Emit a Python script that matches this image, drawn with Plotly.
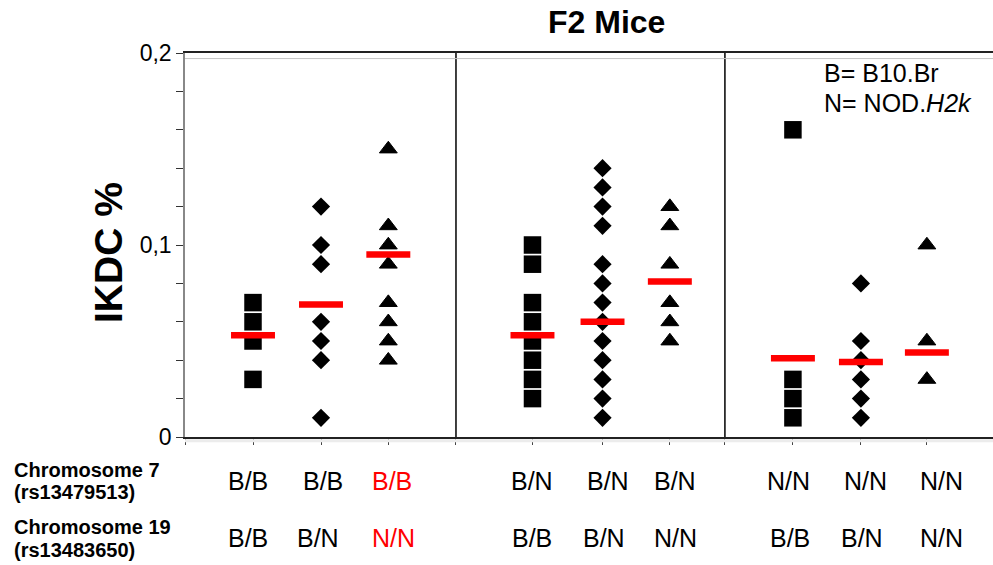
import plotly.graph_objects as go

# Genotype of each F2 group at the two markers
chr7_genotype = ["B/B", "B/B", "B/B", "B/N", "B/N", "B/N", "N/N", "N/N", "N/N"]
chr19_genotype = ["B/B", "B/N", "N/N", "B/B", "B/N", "N/N", "B/B", "B/N", "N/N"]
highlight_group = 2  # B/B at chr7 with N/N at chr19

# IKDC % per mouse, one list per group
ikdc_values = [
    [0.07, 0.06, 0.05, 0.03],
    [0.12, 0.10, 0.09, 0.06, 0.05, 0.04, 0.01],
    [0.15, 0.11, 0.10, 0.09, 0.07, 0.06, 0.05, 0.04],
    [0.10, 0.09, 0.07, 0.06, 0.05, 0.04, 0.03, 0.02],
    [0.14, 0.13, 0.12, 0.11, 0.09, 0.08, 0.07, 0.06, 0.05, 0.04, 0.03, 0.02, 0.01],
    [0.12, 0.11, 0.09, 0.07, 0.06, 0.05],
    [0.16, 0.03, 0.02, 0.01],
    [0.08, 0.05, 0.04, 0.03, 0.02, 0.01],
    [0.10, 0.05, 0.03],
]
# Group averages (red bars)
group_average = [0.053, 0.069, 0.095, 0.053, 0.060, 0.081, 0.041, 0.039, 0.044]

y_ticks = [0, 0.02, 0.04, 0.06, 0.08, 0.1, 0.12, 0.14, 0.16, 0.18, 0.2]
y_tick_text = ["0", "", "", "", "", "0,1", "", "", "", "", "0,2"]

# ---- layout helpers -------------------------------------------------------
group_x = [1.0, 2.0, 2.99, 5.11, 6.14, 7.13, 8.94, 9.94, 10.91]
panel_dividers = [3.985, 7.94]
row1_label_x = [0.93, 2.03, 3.04, 5.10, 6.22, 7.21, 8.87, 10.0, 11.13]
row2_label_x = [0.93, 1.96, 3.06, 5.10, 6.16, 7.21, 8.90, 9.95, 11.13]
symbols = ["square", "diamond", "triangle-up"] * 3
symbol_size = {"square": 17.5, "diamond": 14, "triangle-up": 15.5}
symbol_line = {"square": 0, "diamond": 0, "triangle-up": 1}

FONT = "Arial, Liberation Sans, sans-serif"
W, H = 993, 565
ML, MR, MT, MB = 185, 0, 53, 128
plot_w = W - ML - MR
plot_h = H - MT - MB

fig = go.Figure()

for i, vals in enumerate(ikdc_values):
    sym = symbols[i]
    fig.add_trace(go.Scatter(
        x=[group_x[i]] * len(vals), y=vals, mode="markers",
        marker=dict(symbol=sym, size=symbol_size[sym], color="black",
                    line=dict(width=symbol_line[sym], color="black")),
        showlegend=False, hoverinfo="y",
    ))

fig.add_trace(go.Scatter(
    x=group_x, y=group_average, mode="markers",
    marker=dict(symbol="line-ew", size=31.4, color="#ff0000",
                line=dict(width=6.5, color="#ff0000")),
    showlegend=False, hoverinfo="y",
))

shapes = []
for xd in panel_dividers:
    shapes.append(dict(type="line", xref="x", yref="y", x0=xd, x1=xd, y0=0, y1=0.2,
                       line=dict(color="black", width=1.5)))
# faint inner lines along the top and bottom frame
shapes.append(dict(type="line", xref="paper", yref="y", x0=0, x1=1, y0=0.1971, y1=0.1971,
                   line=dict(color="#c4c4c4", width=1)))
shapes.append(dict(type="line", xref="paper", yref="paper", x0=0, x1=1,
                   y0=-0.0095, y1=-0.0095, line=dict(color="#ececec", width=3)))


def px_y(py):
    return ((H - MB) - py) / plot_h


def px_x(px):
    return (px - ML) / plot_w


annotations = []
for i in range(len(group_x)):
    col = "#ff0000" if i == highlight_group else "black"
    annotations.append(dict(x=row1_label_x[i], xref="x", y=px_y(481), yref="paper",
                            text=chr7_genotype[i], showarrow=False,
                            xanchor="center", yanchor="middle",
                            font=dict(family=FONT, size=25, color=col)))
    annotations.append(dict(x=row2_label_x[i], xref="x", y=px_y(538), yref="paper",
                            text=chr19_genotype[i], showarrow=False,
                            xanchor="center", yanchor="middle",
                            font=dict(family=FONT, size=25, color=col)))

for text, py in [("Chromosome 7", 470), ("(rs13479513)", 492),
                 ("Chromosome 19", 527), ("(rs13483650)", 550)]:
    annotations.append(dict(x=px_x(12), xref="paper", y=px_y(py), yref="paper",
                            text="<b>" + text + "</b>", showarrow=False,
                            xanchor="left", yanchor="middle",
                            font=dict(family=FONT, size=20, color="black")))

annotations.append(dict(x=px_x(109), xref="paper", y=px_y(253), yref="paper",
                        text="<b>IKDC %</b>", textangle=-90, showarrow=False,
                        xanchor="center", yanchor="middle",
                        font=dict(family=FONT, size=39, color="black")))
annotations.append(dict(x=px_x(606), xref="paper", y=px_y(22), yref="paper",
                        text="<b>F2 Mice</b>", showarrow=False,
                        xanchor="center", yanchor="middle",
                        font=dict(family=FONT, size=32, color="black")))
annotations.append(dict(x=px_x(822), xref="paper", y=px_y(73), yref="paper",
                        text="B= B10.Br", showarrow=False,
                        xanchor="left", yanchor="middle",
                        font=dict(family=FONT, size=25, color="black")))
annotations.append(dict(x=px_x(822), xref="paper", y=px_y(103), yref="paper",
                        text="N= NOD.<i>H2k</i>", showarrow=False,
                        xanchor="left", yanchor="middle",
                        font=dict(family=FONT, size=25, color="black")))

fig.update_layout(
    width=W, height=H,
    margin=dict(l=ML, r=MR, t=MT, b=MB),
    paper_bgcolor="white", plot_bgcolor="white",
    shapes=shapes, annotations=annotations,
    xaxis=dict(range=[0, plot_w / 68], showgrid=False, zeroline=False,
               showline=True, linecolor="#222222", linewidth=1.5, mirror=True,
               tickvals=[0] + group_x + panel_dividers, ticks="outside", ticklen=6,
               tickcolor="#444444", tickwidth=1, showticklabels=False, fixedrange=True),
    yaxis=dict(range=[0, 0.2], showgrid=False, zeroline=False,
               showline=True, linecolor="#888888", linewidth=1.5,
               tickvals=y_ticks, ticktext=y_tick_text, ticks="outside", ticklen=7,
               tickcolor="#333333", tickwidth=1,
               tickfont=dict(family=FONT, size=23, color="black"), fixedrange=True),
)

fig.write_html("out.html")
